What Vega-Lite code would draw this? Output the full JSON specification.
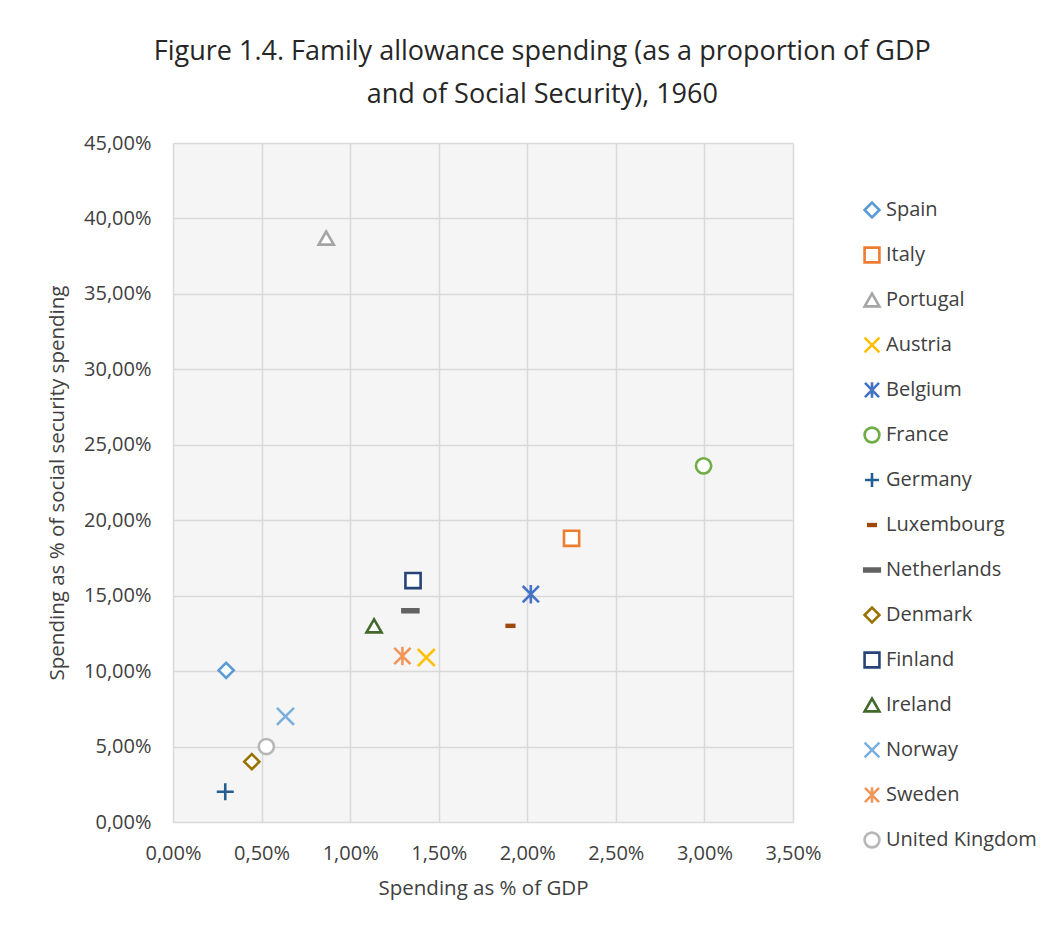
{
  "$schema": "https://vega.github.io/schema/vega-lite/v6.json",
  "autosize": "none",
  "width": 620,
  "height": 679,
  "padding": {"left": 173, "top": 143, "right": 261, "bottom": 109},
  "background": "white",
  "title": {
    "text": ["Figure 1.4. Family allowance spending (as a proportion of GDP", "and of Social Security), 1960"],
    "font": "Open Sans",
    "fontSize": 27,
    "fontWeight": "normal",
    "color": "#262626",
    "lineHeight": 43,
    "anchor": "middle",
    "frame": "bounds",
    "offset": 24
  },
  "config": {
    "view": {"fill": "#F5F5F5", "stroke": null},
    "font": "Open Sans"
  },
  "data": {
    "values": [
      {"country": "Spain", "gdp": 0.0030, "ss": 0.1005},
      {"country": "Italy", "gdp": 0.0225, "ss": 0.188},
      {"country": "Portugal", "gdp": 0.00865, "ss": 0.387},
      {"country": "Austria", "gdp": 0.0143, "ss": 0.109},
      {"country": "Belgium", "gdp": 0.0202, "ss": 0.151},
      {"country": "France", "gdp": 0.02995, "ss": 0.236},
      {"country": "Germany", "gdp": 0.00295, "ss": 0.020},
      {"country": "Luxembourg", "gdp": 0.01905, "ss": 0.130},
      {"country": "Netherlands", "gdp": 0.0134, "ss": 0.140},
      {"country": "Denmark", "gdp": 0.00445, "ss": 0.040},
      {"country": "Finland", "gdp": 0.01355, "ss": 0.160},
      {"country": "Ireland", "gdp": 0.01135, "ss": 0.130},
      {"country": "Norway", "gdp": 0.00635, "ss": 0.070},
      {"country": "Sweden", "gdp": 0.01295, "ss": 0.110},
      {"country": "United Kingdom", "gdp": 0.00527, "ss": 0.050}
    ]
  },
  "mark": {"type": "point", "size": 230, "strokeWidth": 2.6, "opacity": 1, "strokeCap": "square"},
  "encoding": {
    "x": {
      "field": "gdp", "type": "quantitative",
      "scale": {"domain": [0, 0.035], "nice": false, "zero": true},
      "axis": {
        "title": "Spending as % of GDP",
        "values": [0, 0.005, 0.01, 0.015, 0.02, 0.025, 0.03, 0.035],
        "labelExpr": "replace(format(datum.value, '.2%'), '.', ',')",
        "labelFontSize": 20, "labelColor": "#404040", "labelPadding": 21,
        "labelFont": "Open Sans", "labelFlush": false, "labelOverlap": false,
        "titleFontSize": 20.5, "titleColor": "#404040", "titleFontWeight": "normal", "titlePadding": 15,
        "titleFont": "Open Sans",
        "ticks": false, "domain": false,
        "gridColor": "#D9D9D9", "gridWidth": 1.5, "gridOpacity": 1
      }
    },
    "y": {
      "field": "ss", "type": "quantitative",
      "scale": {"domain": [0, 0.45], "nice": false},
      "axis": {
        "title": "Spending as % of social security spending",
        "values": [0, 0.05, 0.1, 0.15, 0.2, 0.25, 0.3, 0.35, 0.4, 0.45],
        "labelExpr": "replace(format(datum.value, '.2%'), '.', ',')",
        "labelFontSize": 20, "labelColor": "#404040", "labelPadding": 22,
        "labelFont": "Open Sans", "labelOverlap": false,
        "titleFontSize": 20.5, "titleColor": "#404040", "titleFontWeight": "normal", "titlePadding": 16,
        "titleFont": "Open Sans",
        "ticks": false, "domain": false,
        "gridColor": "#D9D9D9", "gridWidth": 1.5, "gridOpacity": 1
      }
    },
    "stroke": {
      "field": "country", "type": "nominal",
      "scale": {
        "domain": ["Spain", "Italy", "Portugal", "Austria", "Belgium", "France", "Germany", "Luxembourg", "Netherlands", "Denmark", "Finland", "Ireland", "Norway", "Sweden", "United Kingdom"],
        "range": ["#5B9BD5", "#ED7D31", "#A5A5A5", "#FFC000", "#4472C4", "#70AD47", "#255E91", "#9E480E", "#636363", "#997300", "#264478", "#43682B", "#7CAFDD", "#F1975A", "#B7B7B7"]
      },
      "legend": {
        "title": null, "orient": "none", "legendX": 689, "legendY": 57,
        "labelFontSize": 20, "labelFont": "Open Sans", "labelColor": "#404040",
        "labelOffset": 4, "symbolSize": 220, "symbolStrokeWidth": 2.6, "rowPadding": 19, "gridAlign": "all"
      }
    },
    "fill": {
      "field": "country", "type": "nominal",
      "scale": {
        "domain": ["Spain", "Italy", "Portugal", "Austria", "Belgium", "France", "Germany", "Luxembourg", "Netherlands", "Denmark", "Finland", "Ireland", "Norway", "Sweden", "United Kingdom"],
        "range": ["#FFFFFF", "#FFFFFF", "#FFFFFF", "#FFFFFF", "#FFFFFF", "#FFFFFF", "#FFFFFF", "#9E480E", "#636363", "#FFFFFF", "#FFFFFF", "#FFFFFF", "#FFFFFF", "#FFFFFF", "#FFFFFF"]
      },
      "legend": {
        "title": null, "orient": "none", "legendX": 689, "legendY": 57,
        "labelFontSize": 20, "labelFont": "Open Sans", "labelColor": "#404040",
        "labelOffset": 4, "symbolSize": 220, "symbolStrokeWidth": 2.6, "rowPadding": 19, "gridAlign": "all"
      }
    },
    "shape": {
      "field": "country", "type": "nominal",
      "scale": {
        "domain": ["Spain", "Italy", "Portugal", "Austria", "Belgium", "France", "Germany", "Luxembourg", "Netherlands", "Denmark", "Finland", "Ireland", "Norway", "Sweden", "United Kingdom"],
        "range": ["diamond", "square", "triangle-up", "M-1,-1L1,1M-1,1L1,-1", "M-0.95,-0.95L0.95,0.95M-0.95,0.95L0.95,-0.95M0,-1.05L0,1.05", "circle", "M-0.95,0L0.95,0M0,-0.95L0,0.95", "M-0.5,-0.12L0.5,-0.12L0.5,0.12L-0.5,0.12Z", "M-1.05,-0.2L1.05,-0.2L1.05,0.2L-1.05,0.2Z", "diamond", "square", "triangle-up", "M-1,-1L1,1M-1,1L1,-1", "M-0.95,-0.95L0.95,0.95M-0.95,0.95L0.95,-0.95M0,-1.05L0,1.05", "circle"]
      },
      "legend": {
        "title": null, "orient": "none", "legendX": 689, "legendY": 57,
        "labelFontSize": 20, "labelFont": "Open Sans", "labelColor": "#404040",
        "labelOffset": 4, "symbolSize": 220, "symbolStrokeWidth": 2.6, "rowPadding": 19, "gridAlign": "all"
      }
    }
  }
}
